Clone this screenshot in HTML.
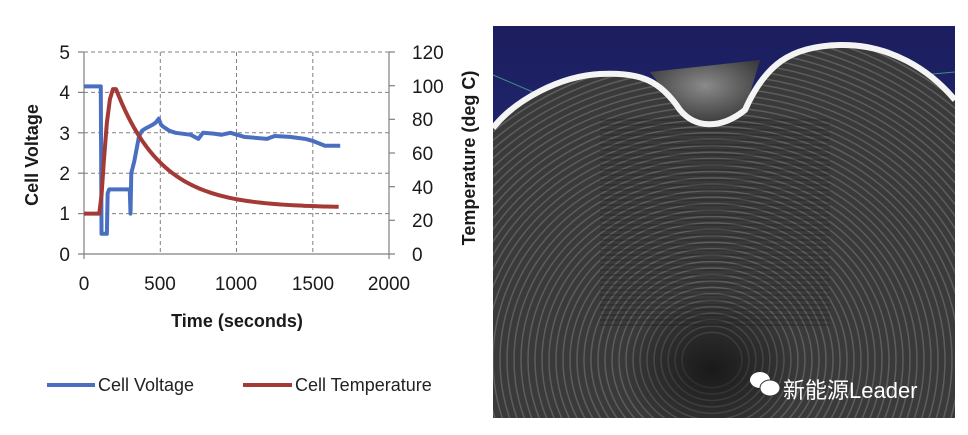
<!DOCTYPE html>
<html><head><meta charset="utf-8"><style>
html,body{margin:0;padding:0;background:#fff;overflow:hidden;}
body{width:968px;height:435px;overflow:hidden;position:relative;font-family:"Liberation Sans","Noto Sans CJK SC",sans-serif;}
svg{display:block}
</style></head><body>
<svg id="s" width="968" height="435" xmlns="http://www.w3.org/2000/svg" style="position:absolute;left:0;top:0;overflow:hidden">
<defs>
<linearGradient id="bg" x1="0" y1="0" x2="0" y2="1">
<stop offset="0" stop-color="#1b1d5e"/><stop offset="1" stop-color="#2a3a8c"/></linearGradient>
<radialGradient id="dent" cx="0.5" cy="0.4" r="0.6"><stop offset="0" stop-color="#8a8a8a"/><stop offset="1" stop-color="#3a3a3a"/></radialGradient>
<radialGradient id="core" cx="0.5" cy="0.5" r="0.5"><stop offset="0" stop-color="#111" stop-opacity="0.8"/><stop offset="1" stop-color="#111" stop-opacity="0"/></radialGradient>
<clipPath id="shell"><path d="M493,128 C515,100 560,76 600,74 C640,72 660,80 680,110 C695,128 720,130 745,110 C765,65 790,46 840,45 C890,44 930,70 955,100 L955,418 L493,418 Z"/></clipPath>
<clipPath id="img"><rect x="493" y="26" width="462" height="392"/></clipPath>
</defs>
<g clip-path="url(#img)">
<rect x="493" y="26" width="462" height="392" fill="url(#bg)"/>
<line x1="493" y1="75" x2="540" y2="95" stroke="#6fa" stroke-opacity="0.5"/>
<line x1="910" y1="76" x2="955" y2="72" stroke="#6fa" stroke-opacity="0.5"/>
<path d="M493,128 C515,100 560,76 600,74 C640,72 660,80 680,110 C695,128 720,130 745,110 C765,65 790,46 840,45 C890,44 930,70 955,100 L955,418 L493,418 Z" fill="#3a3a3a"/>
<path d="M650,72 L760,60 L745,110 C720,130 695,128 680,110 Z" fill="url(#dent)"/>
<g clip-path="url(#shell)" id="rings" fill="none" stroke="#a0a0a0" stroke-opacity="0.35" stroke-width="1.5"></g>
<ellipse cx="712" cy="370" rx="90" ry="75" fill="url(#core)"/>
<path d="M493,128 C515,100 560,76 600,74 C640,72 660,80 680,110 C695,128 720,130 745,110 C765,65 790,46 840,45 C890,44 930,70 955,100" fill="none" stroke="#f4f4f4" stroke-width="6"/>
</g>
<g transform="translate(760,380)">
<ellipse cx="0" cy="0" rx="10" ry="8" fill="#fff"/>
<ellipse cx="10" cy="8" rx="10" ry="8" fill="#fff" stroke="#333" stroke-width="1"/>
</g>
<text x="783" y="398" font-size="22" fill="#fff">新能源Leader</text>

<g stroke="#808080" stroke-width="1" stroke-dasharray="4,3">
<line x1="84" y1="52" x2="389" y2="52"/>
<line x1="84" y1="92.4" x2="389" y2="92.4"/>
<line x1="84" y1="132.8" x2="389" y2="132.8"/>
<line x1="84" y1="173.2" x2="389" y2="173.2"/>
<line x1="84" y1="213.6" x2="389" y2="213.6"/>
<line x1="160.3" y1="52" x2="160.3" y2="254"/>
<line x1="236.5" y1="52" x2="236.5" y2="254"/>
<line x1="312.8" y1="52" x2="312.8" y2="254"/>
</g>
<g stroke="#808080" stroke-width="1.2">
<line x1="84" y1="52" x2="84" y2="259"/>
<line x1="389" y1="52" x2="389" y2="259"/>
<line x1="78" y1="254" x2="395" y2="254"/>
<line x1="78" y1="52" x2="84" y2="52"/><line x1="78" y1="92.4" x2="84" y2="92.4"/><line x1="78" y1="132.8" x2="84" y2="132.8"/><line x1="78" y1="173.2" x2="84" y2="173.2"/><line x1="78" y1="213.6" x2="84" y2="213.6"/>
<line x1="389" y1="52" x2="395" y2="52"/><line x1="389" y1="85.7" x2="395" y2="85.7"/><line x1="389" y1="119.3" x2="395" y2="119.3"/><line x1="389" y1="153" x2="395" y2="153"/><line x1="389" y1="186.7" x2="395" y2="186.7"/><line x1="389" y1="220.3" x2="395" y2="220.3"/>
</g>
<g font-size="19" fill="#1a1a1a" text-anchor="end">
<text x="70" y="59">5</text><text x="70" y="99">4</text><text x="70" y="140">3</text><text x="70" y="180">2</text><text x="70" y="220">1</text><text x="70" y="261">0</text>
</g>
<g font-size="19" fill="#1a1a1a">
<text x="412" y="59">120</text><text x="412" y="93">100</text><text x="412" y="126">80</text><text x="412" y="160">60</text><text x="412" y="194">40</text><text x="412" y="227">20</text><text x="412" y="261">0</text>
</g>
<g font-size="19" fill="#1a1a1a" text-anchor="middle">
<text x="84" y="290">0</text><text x="160" y="290">500</text><text x="236" y="290">1000</text><text x="313" y="290">1500</text><text x="389" y="290">2000</text>
</g>
<text x="237" y="327" font-size="18" font-weight="bold" text-anchor="middle" fill="#1a1a1a">Time (seconds)</text>
<text transform="translate(38,155) rotate(-90)" font-size="18" font-weight="bold" text-anchor="middle" fill="#1a1a1a">Cell Voltage</text>
<text transform="translate(475,158) rotate(-90)" font-size="18" font-weight="bold" text-anchor="middle" fill="#1a1a1a">Temperature (deg C)</text>
<polyline id="pv" fill="none" stroke="#4a6fc0" stroke-width="4" stroke-linejoin="round"/>
<polyline id="pt" fill="none" stroke="#a33a36" stroke-width="4" stroke-linejoin="round"/>
<line x1="47" y1="385" x2="95" y2="385" stroke="#4a6fc0" stroke-width="4"/>
<text x="98" y="391" font-size="18" fill="#222">Cell Voltage</text>
<line x1="243" y1="385" x2="292" y2="385" stroke="#a33a36" stroke-width="4"/>
<text x="295" y="391" font-size="18" fill="#222">Cell Temperature</text>
</svg>
<script>
var X=function(t){return 84+t*0.1525};
var V=[[0,4.15],[110,4.15],[115,0.5],[150,0.5],[155,1.5],[165,1.6],[300,1.6],[305,1.0],[310,2.0],[330,2.3],[345,2.6],[360,2.9],[380,3.05],[400,3.1],[450,3.2],[470,3.25],[490,3.35],[505,3.2],[520,3.15],[560,3.05],[600,3.0],[700,2.95],[750,2.85],[780,3.0],[850,2.98],[900,2.95],[960,3.0],[1050,2.9],[1200,2.85],[1250,2.92],[1350,2.9],[1450,2.85],[1500,2.8],[1580,2.68],[1680,2.68]];
var T=[[0,24],[100,24],[115,35],[130,55],[150,78],[170,92],[190,98],[210,98]];
for(var t=230;t<=1680;t+=20){T.push([t,27.5+70.5*Math.exp(-(t-210)/300)]);}
document.getElementById('pv').setAttribute('points',V.map(function(p){return X(p[0])+','+(254-p[1]*40.4)}).join(' '));
document.getElementById('pt').setAttribute('points',T.map(function(p){return X(p[0])+','+(254-p[1]*1.683)}).join(' '));
var g=document.getElementById('rings'),s='';
for(var r=30;r<420;r+=7){s+='<ellipse cx="712" cy="360" rx="'+r+'" ry="'+(r*0.92)+'"/>';}
for(var y=120;y<330;y+=5){s+='<line x1="600" y1="'+y+'" x2="830" y2="'+y+'" stroke="#222" stroke-opacity="0.35" stroke-width="2"/>';}
g.innerHTML=s;
</script>
</body></html>
